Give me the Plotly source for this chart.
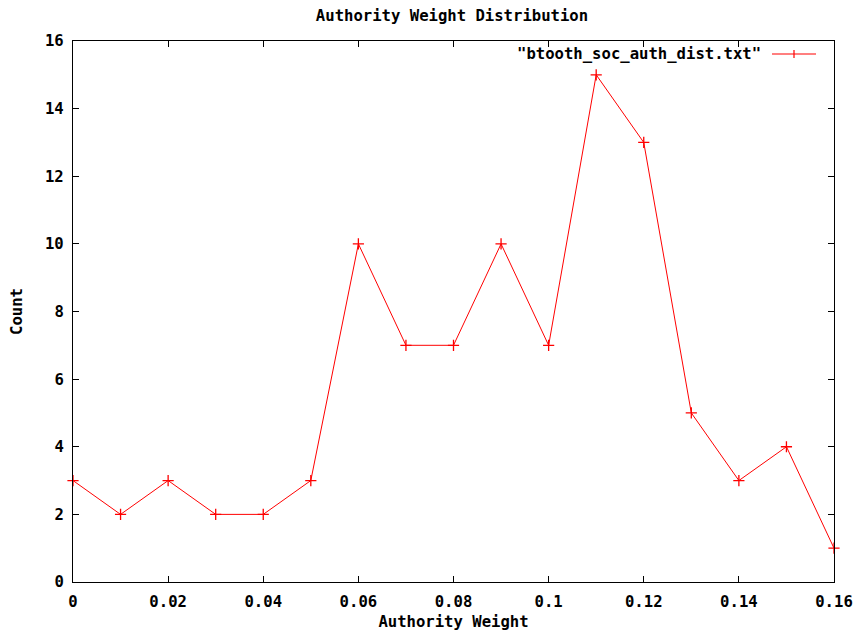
import plotly.graph_objects as go

weights = [0.00, 0.01, 0.02, 0.03, 0.04, 0.05, 0.06, 0.07, 0.08, 0.09, 0.10, 0.11, 0.12, 0.13, 0.14, 0.15, 0.16]
counts = [3, 2, 3, 2, 2, 3, 10, 7, 7, 10, 7, 15, 13, 5, 3, 4, 1]
x_ticks = [0, 0.02, 0.04, 0.06, 0.08, 0.1, 0.12, 0.14, 0.16]
x_tick_labels = ["0", "0.02", "0.04", "0.06", "0.08", "0.1", "0.12", "0.14", "0.16"]
y_ticks = [0, 2, 4, 6, 8, 10, 12, 14, 16]
series_name = '"btooth_soc_auth_dist.txt"'

FONT = "DejaVu Sans Mono"
FS = 15.6
OFF = 8  # page body margin on every side
# target plot area in page pixels
PL, PR, PT, PB = 73, 834, 41, 582
W, H = 861 - 2 * OFF, 639 - 2 * OFF
L, T = PL - OFF, PT - OFF
R, B = (W + OFF) - PR, (H + OFF) - PB

fnt = dict(family=FONT, size=FS, color="black", weight="bold")

fig = go.Figure()
fig.add_trace(go.Scatter(
    x=weights, y=counts, mode="lines+markers",
    line=dict(color="red", width=1),
    marker=dict(symbol="cross-thin", size=8, line=dict(color="red", width=1.3)),
    showlegend=False, cliponaxis=False,
))

axis_common = dict(
    showline=True, linecolor="black", linewidth=1.2, mirror="ticks",
    ticks="inside", ticklen=6, tickcolor="black", tickwidth=1.2,
    showgrid=False, zeroline=False, tickfont=fnt, automargin=False,
)

fig.update_layout(
    width=W, height=H,
    margin=dict(l=L, r=R, t=T, b=B),
    paper_bgcolor="white", plot_bgcolor="white",
    font=dict(family=FONT, color="black"),
    title=dict(text="Authority Weight Distribution",
               x=(452 - OFF) / W, xanchor="center",
               y=1 - (16 - OFF) / H, yanchor="middle", font=fnt),
    xaxis=dict(range=[0, 0.16], tickvals=x_ticks, ticktext=x_tick_labels,
               ticklabelstandoff=5,
               title=dict(text="Authority Weight", standoff=12, font=fnt),
               **axis_common),
    yaxis=dict(range=[0, 16], tickvals=y_ticks, ticklabelstandoff=5,
               title=dict(text="Count", standoff=19, font=fnt),
               **axis_common),
    showlegend=False,
)

# gnuplot-style key: text on the left, sample on the right
px = lambda x: (x - PL) / (PR - PL)
py = lambda y: 1 - (y - PT) / (PB - PT)
key_y = py(54)
fig.add_annotation(text=series_name, xref="paper", yref="paper",
                   x=px(763), y=key_y, xanchor="right", yanchor="middle",
                   showarrow=False, font=fnt)
fig.add_shape(type="line", xref="paper", yref="paper",
              x0=px(772), x1=px(816), y0=key_y, y1=key_y,
              line=dict(color="red", width=1.2))
fig.add_shape(type="line", xref="paper", yref="paper",
              x0=px(794), x1=px(794), y0=py(50), y1=py(58),
              line=dict(color="red", width=1.2))

fig.write_html("out.html")
